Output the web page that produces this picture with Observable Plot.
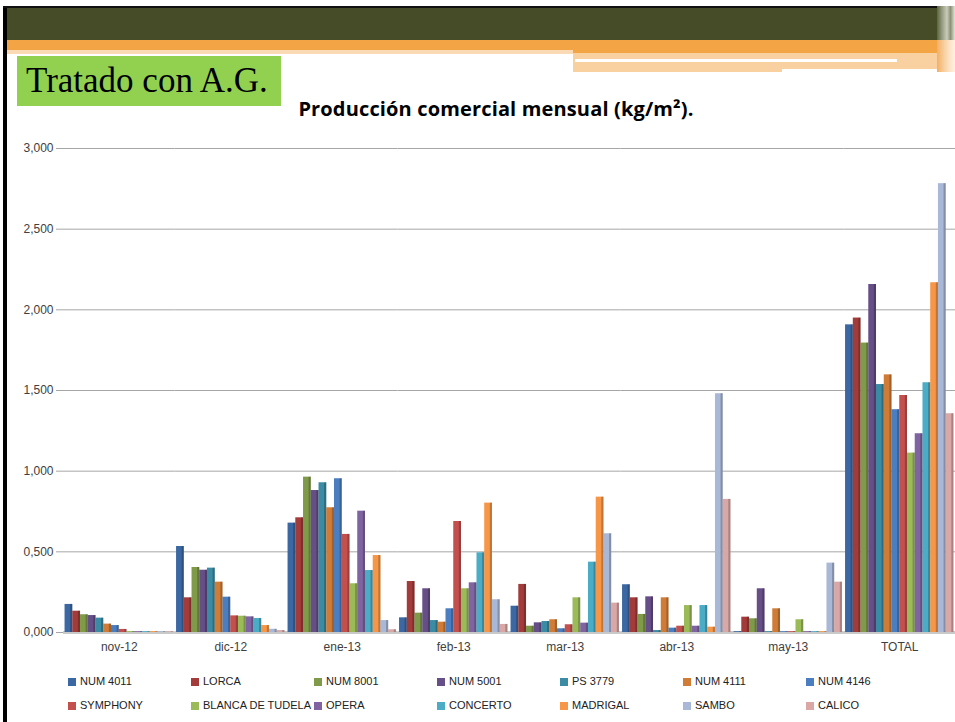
<!DOCTYPE html>
<html><head><meta charset="utf-8">
<script src="https://cdn.jsdelivr.net/npm/d3@7"></script>
<script src="https://cdn.jsdelivr.net/npm/@observablehq/plot@0.6"></script>
<style>
  html, body { margin: 0; padding: 0; background: #fff; }
  #page { position: relative; width: 955px; height: 722px; overflow: hidden; background: #fff; }
  .abs { position: absolute; }
  #greenbox { left: 17px; top: 56px; width: 264px; height: 50px; background: #92D050;
    font-family: "Liberation Serif", "DejaVu Serif", serif; font-size: 35px; line-height: 50px;
    color: #000; padding-left: 9px; box-sizing: border-box; white-space: nowrap; }
  #title { left: 496px; top: 95px; transform: translateX(-50%); font-family: "Open Sans", "Noto Sans", sans-serif;
    font-weight: bold; font-size: 20px; letter-spacing: 0.15px; color: #000; white-space: nowrap; }
  #chart { left: 0; top: 130px; }
  .leg { position: absolute; height: 12px; font-family: "Liberation Sans", Arial, sans-serif; font-size: 11px;
    color: #222; white-space: nowrap; line-height: 12px; }
  .leg span.sw { display: inline-block; width: 8px; height: 8px; vertical-align: -1px; margin-right: 4px; }
</style>
</head><body>
<div id="page">
  <div class="abs" style="left:3px;top:6px;width:4px;height:716px;background:#000;"></div>
  <div class="abs" style="left:3px;top:6px;width:934px;height:2px;background:#111;"></div>
  <div class="abs" style="left:7px;top:8px;width:930px;height:32px;background:#454C27;"></div>
  <div class="abs" style="left:7px;top:40px;width:930px;height:10px;background:#F3A546;"></div>
  <div class="abs" style="left:573px;top:50px;width:364px;height:3px;background:#F3A546;"></div>
  <div class="abs" style="left:7px;top:50px;width:566px;height:4px;background:#FAD9B5;"></div>
  <div class="abs" style="left:573px;top:53px;width:364px;height:19px;background:#F9D0A0;"></div>
  <div class="abs" style="left:575px;top:59px;width:322px;height:3px;background:#fff;"></div>
  <div class="abs" style="left:782px;top:69px;width:158px;height:3px;background:#fff;"></div>
  <div class="abs" style="left:937px;top:6px;width:18px;height:34px;background:linear-gradient(to right,#5d6440,#9aa085 30%,#c9ccbb 55%,#8d9276 75%,#e4e5dc);"></div>
  <div class="abs" style="left:937px;top:40px;width:18px;height:32px;background:linear-gradient(to right,#f3b066,#f8cf9f 40%,#fbe3c8 70%,#fdf0e0);"></div>
  <div id="greenbox" class="abs">Tratado con A.G.</div>
  <div id="title" class="abs">Producción comercial mensual (kg/m²).</div>
  <div id="chart" class="abs"></div>
  <div id="legend" class="abs" style="left:0;top:0;"></div>
</div>
<script>
const months = ["nov-12", "dic-12", "ene-13", "feb-13", "mar-13", "abr-13", "may-13", "TOTAL"];
const seriesNames = ["NUM 4011", "LORCA", "NUM 8001", "NUM 5001", "PS 3779", "NUM 4111", "NUM 4146",
  "SYMPHONY", "BLANCA DE TUDELA", "OPERA", "CONCERTO", "MADRIGAL", "SAMBO", "CALICO"];
const seriesColors = ["#3B68A2", "#A23B39", "#7F9A48", "#664E87", "#3A8BA3", "#D07C36", "#4A7EC0",
  "#C4504E", "#9BBB59", "#8064A2", "#4BACC6", "#F79646", "#A9B8D6", "#D8A7A6"];
const yTicks = [0, 0.5, 1, 1.5, 2, 2.5, 3];

// values per series: nov-12, dic-12, ene-13, feb-13, mar-13, abr-13, may-13, TOTAL
const num4011  = [0.174, 0.533, 0.678, 0.091, 0.163, 0.296, 0.005, 1.907];
const lorca    = [0.132, 0.215, 0.711, 0.316, 0.298, 0.215, 0.095, 1.949];
const num8001  = [0.110, 0.403, 0.963, 0.120, 0.039, 0.112, 0.085, 1.794];
const num5001  = [0.105, 0.386, 0.880, 0.271, 0.060, 0.221, 0.271, 2.157];
const ps3779   = [0.089, 0.399, 0.928, 0.074, 0.068, 0.012, 0.005, 1.537];
const num4111  = [0.052, 0.312, 0.773, 0.064, 0.079, 0.215, 0.147, 1.597];
const num4146  = [0.043, 0.219, 0.953, 0.147, 0.023, 0.027, 0.005, 1.381];
const symphony = [0.019, 0.103, 0.608, 0.688, 0.048, 0.039, 0.005, 1.469];
const blanca   = [0.006, 0.101, 0.302, 0.271, 0.215, 0.167, 0.079, 1.112];
const opera    = [0.005, 0.097, 0.752, 0.308, 0.058, 0.039, 0.005, 1.232];
const concerto = [0.005, 0.087, 0.384, 0.494, 0.436, 0.167, 0.005, 1.548];
const madrigal = [0.005, 0.043, 0.477, 0.802, 0.839, 0.033, 0.005, 2.168];
const sambo    = [0.005, 0.020, 0.074, 0.203, 0.612, 1.480, 0.430, 2.782];
const calico   = [0.004, 0.012, 0.017, 0.050, 0.182, 0.825, 0.312, 1.356];
const seriesValues = [num4011, lorca, num8001, num5001, ps3779, num4111, num4146,
  symphony, blanca, opera, concerto, madrigal, sambo, calico];

const rows = [];
seriesNames.forEach((s, i) => months.forEach((m, j) => rows.push({month: m, series: s, value: seriesValues[i][j]})));

const fmt = d => d3.format(".3f")(d).replace(".", ",");

const chart = Plot.plot({
  width: 955, height: 535,
  marginTop: 18, marginBottom: 33, marginLeft: 63, marginRight: 0,
  style: {fontFamily: "'Liberation Sans', Arial, sans-serif", fontSize: "12px", color: "#404040", background: "transparent"},
  fx: {domain: months, padding: 0, round: false, label: null},
  x: {domain: seriesNames, paddingInner: 0, paddingOuter: 0.2, round: false, axis: null},
  y: {domain: [0, 3], label: null},
  color: {domain: seriesNames, range: seriesColors},
  marks: [
    Plot.gridY(yTicks, {stroke: "#A6A6A6", strokeOpacity: 1}),
    Plot.ruleY([0], {stroke: "#C9C9C9", strokeWidth: 3}),
    Plot.barY(rows, {fx: "month", x: "series", y: "value", fill: "series"}),
    Plot.barY(rows, {fx: "month", x: "series", y: "value", fill: "black", fillOpacity: 0.22, insetLeft: 5.6}),
    Plot.axisY(yTicks, {tickSize: 7, stroke: "#A6A6A6", tickPadding: 3, tickFormat: fmt, fill: "#404040", label: null}),
    Plot.axisFx({anchor: "bottom", tickSize: 0, tickPadding: 10, label: null, fill: "#404040"})
  ]
});
document.getElementById("chart").appendChild(chart);

const legend = document.getElementById("legend");
seriesNames.forEach((s, i) => {
  const col = i % 7, row = Math.floor(i / 7);
  const el = document.createElement("div");
  el.className = "leg";
  el.style.left = (68 + col * 123) + "px";
  el.style.top = (675 + row * 24) + "px";
  el.innerHTML = `<span class="sw" style="background:${seriesColors[i]}"></span>${s}`;
  legend.appendChild(el);
});
</script>
</body></html>
